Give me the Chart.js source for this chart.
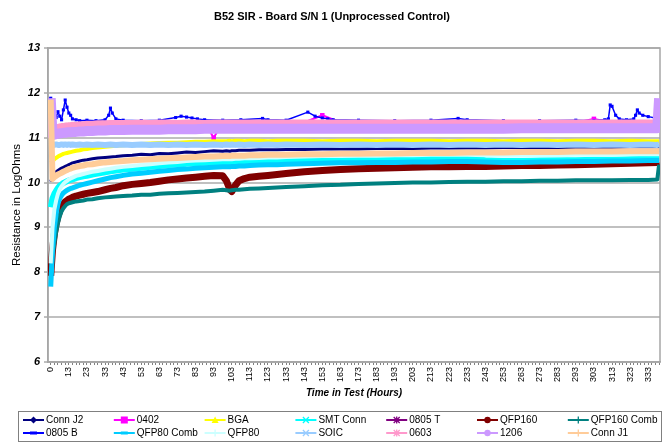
<!DOCTYPE html>
<html><head><meta charset="utf-8">
<script src="https://cdn.jsdelivr.net/npm/chart.js@4.4.1/dist/chart.umd.min.js"></script>
<style>html,body{margin:0;padding:0;background:#fff;}#wrap{width:664px;height:446px;position:relative;}</style>
</head><body><div id="wrap"><canvas id="c" width="664" height="446"></canvas></div>
<script>
const chartTitle = 'B52 SIR - Board S/N 1 (Unprocessed Control)';
const xTitle = 'Time in Test (Hours)';
const yTitle = 'Resistance in LogOhms';
const seriesNames = ['Conn J2','0402','BGA','SMT Conn','0805 T','QFP160','QFP160 Comb','0805 B','QFP80 Comb','QFP80','SOIC','0603','1206','Conn J1'];
// category-axis labels shown every 10th category
const xTickLabels = ['0','13','23','33','43','53','63','73','83','93','103','113','123','133','143','153','163','173','183','193','203','213','223','233','243','253','263','273','283','293','303','313','323','333'];
const yTickValues = [6,7,8,9,10,11,12,13];
// category positions of the sampled readings
const sampleIdx = [0,1,2,3,4,5,6,7,8,9,10,11,12, 14,16,18,20, 23,26,30,33,36,40, 45,50,55,60,65,70,75,80,85,90,95, 97,99,100,102,104,107,110, 115,120,125,130, 140,150,160,170,180,190,200,210,220,230,240,250,260,270,280,290,300,310,320,330, 335,336];

const connJ2 = [10.02,10.15,10.2,10.24,10.27,10.3,10.32,10.34,10.36,10.38,10.4,10.42,10.44, 10.46,10.48,10.5,10.51, 10.53,10.55,10.56,10.57,10.58,10.6, 10.61,10.63,10.62,10.65,10.64,10.66,10.68,10.67,10.69,10.71,10.7, 10.71,10.7,10.71,10.71,10.72,10.72,10.72, 10.73,10.73,10.73,10.74, 10.74,10.75,10.75,10.75,10.76,10.76,10.76,10.77,10.77,10.77,10.77,10.78,10.78,10.78,10.78,10.79,10.79,10.79,10.8,10.8, 10.8,10.8];
const c0402 = [11.1,11.15,11.18,11.2,11.22,11.23,11.24,11.25,11.26,11.26,11.27,11.27,11.28, 11.29,11.29,11.3,11.3, 11.31,11.31,11.32,11.32,11.32,11.33, 11.33,11.33,11.33,11.34,11.33,11.34,11.34,11.33,11.34,11.0,11.34, 11.34,11.34,11.34,11.34,11.34,11.34,11.34, 11.34,11.34,11.34,11.34, 11.34,11.5,11.34,11.34,11.34,11.34,11.34,11.34,11.34,11.34,11.34,11.34,11.34,11.34,11.34,11.34,11.42,11.34,11.34,11.34, 11.34,11.34];
const bga = [10.44,10.48,10.52,10.55,10.58,10.6,10.62,10.64,10.65,10.66,10.67,10.68,10.69, 10.71,10.72,10.74,10.75, 10.77,10.78,10.8,10.81,10.82,10.83, 10.85,10.86,10.87,10.88,10.89,10.89,10.9,10.91,10.91,10.92,10.92, 10.92,10.93,10.92,10.93,10.93,10.92,10.93, 10.93,10.92,10.93,10.93, 10.93,10.92,10.93,10.93,10.92,10.93,10.93,10.93,10.92,10.93,10.93,10.92,10.93,10.93,10.92,10.93,10.93,10.92,10.93,10.92, 10.92,10.92];
const smtConn = [9.45,9.65,9.75,9.82,9.88,9.93,9.96,9.99,10.01,10.03,10.05,10.06,10.07, 10.1,10.12,10.14,10.15, 10.18,10.2,10.23,10.25,10.27,10.29, 10.31,10.33,10.35,10.37,10.39,10.4,10.42,10.43,10.44,10.45,10.46, 10.46,10.45,10.45,10.46,10.47,10.47,10.48, 10.49,10.5,10.5,10.51, 10.52,10.53,10.53,10.54,10.54,10.55,10.55,10.56,10.56,10.55,10.5,10.48,10.48,10.49,10.5,10.5,10.51,10.51,10.52,10.53, 10.53,10.53];
const c0805T = [11.1,11.12,11.13,11.14,11.14,11.15,11.15,11.16,11.16,11.16,11.17,11.17,11.17, 11.18,11.18,11.18,11.19, 11.19,11.19,11.2,11.2,11.2,11.2, 11.21,11.21,11.21,11.21,11.21,11.21,11.21,11.21,11.21,11.21,11.21, 11.21,11.21,11.21,11.21,11.21,11.21,11.21, 11.21,11.21,11.21,11.21, 11.22,11.22,11.22,11.22,11.22,11.22,11.22,11.22,11.22,11.22,11.22,11.22,11.22,11.22,11.22,11.22,11.22,11.22,11.22,11.22, 11.22,11.22];
const qfp160 = [7.92,8.5,8.85,9.08,9.25,9.37,9.46,9.53,9.57,9.6,9.63,9.65,9.67, 9.7,9.72,9.74,9.76, 9.78,9.8,9.84,9.87,9.89,9.93, 9.96,9.98,10.0,10.03,10.06,10.08,10.1,10.12,10.14,10.16,10.15, 10.04,9.84,9.8,9.94,10.04,10.09,10.12, 10.14,10.16,10.18,10.2, 10.24,10.27,10.29,10.31,10.32,10.33,10.34,10.35,10.35,10.36,10.36,10.37,10.38,10.38,10.39,10.4,10.41,10.42,10.43,10.44, 10.45,10.46];
const qfp160Comb = [7.95,8.35,8.65,8.9,9.1,9.25,9.36,9.43,9.48,9.52,9.54,9.55,9.56, 9.58,9.59,9.6,9.62, 9.63,9.65,9.67,9.68,9.69,9.7, 9.71,9.73,9.73,9.75,9.76,9.77,9.78,9.79,9.8,9.82,9.84, 9.83,9.82,9.83,9.84,9.84,9.85,9.86, 9.87,9.88,9.89,9.9, 9.92,9.94,9.95,9.97,9.98,9.99,10.0,10.0,10.01,10.02,10.02,10.03,10.03,10.04,10.04,10.05,10.05,10.05,10.06,10.06, 10.07,10.4];
const qfp80Comb = [7.68,8.5,9.0,9.3,9.52,9.65,9.72,9.77,9.8,9.83,9.85,9.87,9.88, 9.91,9.94,9.96,9.98, 10.01,10.04,10.08,10.11,10.13,10.16, 10.19,10.21,10.23,10.25,10.27,10.29,10.3,10.32,10.33,10.34,10.35, 10.35,10.35,10.36,10.36,10.37,10.37,10.38, 10.39,10.4,10.4,10.41, 10.42,10.43,10.44,10.44,10.45,10.45,10.46,10.46,10.47,10.47,10.46,10.45,10.45,10.46,10.46,10.47,10.47,10.48,10.48,10.49, 10.49,10.49];
const qfp80 = [8.2,9.0,9.4,9.6,9.75,9.85,9.92,9.97,10.01,10.04,10.07,10.09,10.11, 10.15,10.17,10.19,10.21, 10.24,10.26,10.29,10.31,10.33,10.35, 10.37,10.39,10.41,10.43,10.45,10.46,10.48,10.49,10.5,10.51,10.52, 10.52,10.52,10.52,10.53,10.53,10.54,10.54, 10.55,10.56,10.56,10.57, 10.58,10.59,10.59,10.6,10.6,10.61,10.61,10.62,10.62,10.62,10.61,10.6,10.6,10.61,10.61,10.62,10.62,10.62,10.63,10.63, 10.63,10.63];
const soic = [10.84,10.85,10.84,10.85,10.84,10.84,10.85,10.84,10.85,10.84,10.85,10.84,10.85, 10.84,10.85,10.84,10.85, 10.84,10.85,10.84,10.85,10.84,10.85, 10.84,10.85,10.84,10.85,10.84,10.85,10.84,10.85,10.84,10.85,10.84, 10.85,10.84,10.85,10.84,10.85,10.84,10.85, 10.84,10.85,10.84,10.85, 10.84,10.85,10.84,10.85,10.84,10.85,10.84,10.85,10.84,10.85,10.84,10.85,10.84,10.85,10.84,10.85,10.84,10.85,10.84,10.85, 10.84,10.85];
const c0603 = [11.15,11.2,11.22,11.23,11.24,11.25,11.26,11.26,11.27,11.27,11.28,11.28,11.29, 11.29,11.3,11.3,11.31, 11.31,11.32,11.32,11.33,11.33,11.33, 11.33,11.34,11.33,11.34,11.34,11.33,11.34,11.34,11.33,11.34,11.34, 11.34,11.34,11.34,11.34,11.34,11.34,11.34, 11.34,11.34,11.34,11.34, 11.34,11.34,11.34,11.34,11.34,11.34,11.34,11.34,11.34,11.34,11.34,11.34,11.34,11.34,11.34,11.34,11.34,11.34,11.34,11.34, 11.34,11.34];
const c1206 = [11.88,11.06,11.07,11.08,11.09,11.1,11.1,11.11,11.11,11.12,11.12,11.12,11.13, 11.13,11.14,11.14,11.15, 11.15,11.16,11.16,11.17,11.17,11.17, 11.18,11.18,11.18,11.18,11.19,11.19,11.19,11.19,11.2,11.2,11.2, 11.2,11.2,11.2,11.2,11.2,11.2,11.2, 11.2,11.2,11.2,11.2, 11.2,11.2,11.2,11.2,11.2,11.2,11.2,11.2,11.2,11.2,11.2,11.2,11.21,11.21,11.21,11.21,11.21,11.21,11.21,11.21, 11.21,11.88];
const connJ1 = [11.85,10.08,10.12,10.15,10.18,10.2,10.22,10.24,10.26,10.28,10.3,10.31,10.33, 10.35,10.37,10.38,10.4, 10.41,10.43,10.45,10.46,10.47,10.48, 10.5,10.51,10.52,10.53,10.54,10.55,10.56,10.57,10.58,10.58,10.59, 10.59,10.59,10.6,10.6,10.6,10.6,10.61, 10.61,10.62,10.62,10.62, 10.63,10.63,10.64,10.64,10.65,10.65,10.66,10.66,10.66,10.67,10.67,10.67,10.68,10.68,10.68,10.69,10.69,10.69,10.7,10.7, 10.7,10.7];
// 0805 B has its own (spiky) sampling
const c0805BIdx = [0,1,2,3,4,5,6,7,8,9,10,11,12,14,16,20,25,30,32,33,34,36,40,50,60,69,72,75,78,81,85,95,105,117,120,130,142,146,150,153,156,170,190,210,225,230,250,270,290,300,306,308,309,310,312,314,318,322,323,324,325,327,330,334,336];
const c0805B = [11.88,11.35,11.62,11.45,11.58,11.48,11.4,11.62,11.84,11.68,11.55,11.5,11.42,11.4,11.38,11.39,11.38,11.4,11.5,11.66,11.55,11.42,11.39,11.38,11.39,11.45,11.48,11.46,11.44,11.42,11.4,11.39,11.4,11.43,11.4,11.39,11.57,11.48,11.44,11.42,11.4,11.39,11.38,11.39,11.43,11.4,11.38,11.38,11.39,11.38,11.4,11.42,11.73,11.7,11.5,11.42,11.4,11.42,11.5,11.62,11.55,11.5,11.47,11.44,11.4];

const seriesValues = [connJ2,c0402,bga,smtConn,c0805T,qfp160,qfp160Comb,c0805B,qfp80Comb,qfp80,soic,c0603,c1206,connJ1];
const seriesIdx = [sampleIdx,sampleIdx,sampleIdx,sampleIdx,sampleIdx,sampleIdx,sampleIdx,c0805BIdx,sampleIdx,sampleIdx,sampleIdx,sampleIdx,sampleIdx,sampleIdx];

// styles
const colors = ['#000080','#FF00FF','#FFFF00','#00FFFF','#800080','#800000','#008080','#0000FF','#00CCFF','#CCFFFF','#99CCFF','#FF99CC','#CC99FF','#FFCC99'];
const widths = [3,2,4,6,2,7,4,1.5,5,4,6,6,10,6];
const markers = ['diamond','square','triangle','x','star','circle','plus','dash','dash','plus','x','star','circle','plus'];

const FONT = '"Liberation Sans", Arial, Helvetica, sans-serif';
Chart.defaults.font.family = FONT;
Chart.defaults.color = '#000';

const datasets = seriesNames.map((name, i) => ({
  label: name,
  data: seriesIdx[i].map((x, k) => ({x: x, y: seriesValues[i][k]})),
  borderColor: colors[i],
  backgroundColor: colors[i],
  borderWidth: widths[i],
  pointRadius: i === 7 ? 2.2 : (i === 1 ? 3.2 : 0),
  pointStyle: 'rect',
  pointBorderWidth: 0,
  borderJoinStyle: 'round',
  tension: 0,
  fill: false,
  order: -i
}));

function drawMarker(ctx, style, x, y, color) {
  ctx.save();
  ctx.fillStyle = color; ctx.strokeStyle = color; ctx.lineWidth = 1.3;
  ctx.beginPath();
  switch (style) {
    case 'diamond': ctx.moveTo(x, y-3.5); ctx.lineTo(x+3.5, y); ctx.lineTo(x, y+3.5); ctx.lineTo(x-3.5, y); ctx.closePath(); ctx.fill(); break;
    case 'square': ctx.fillRect(x-3.5, y-3.5, 7, 7); break;
    case 'triangle': ctx.moveTo(x, y-3.5); ctx.lineTo(x+3.5, y+3); ctx.lineTo(x-3.5, y+3); ctx.closePath(); ctx.fill(); break;
    case 'x': ctx.moveTo(x-3, y-3); ctx.lineTo(x+3, y+3); ctx.moveTo(x+3, y-3); ctx.lineTo(x-3, y+3); ctx.stroke(); break;
    case 'star': ctx.moveTo(x-3, y-3); ctx.lineTo(x+3, y+3); ctx.moveTo(x+3, y-3); ctx.lineTo(x-3, y+3); ctx.moveTo(x, y-3.5); ctx.lineTo(x, y+3.5); ctx.stroke(); break;
    case 'circle': ctx.arc(x, y, 3.2, 0, Math.PI*2); ctx.fill(); break;
    case 'plus': ctx.moveTo(x-3.5, y); ctx.lineTo(x+3.5, y); ctx.moveTo(x, y-3.5); ctx.lineTo(x, y+3.5); ctx.stroke(); break;
    case 'dash': ctx.fillRect(x-3.5, y-1.5, 7, 3); break;
  }
  ctx.restore();
}

const decorPlugin = {
  id: 'decor',
  beforeDatasetsDraw(chart) {
    const {ctx, chartArea: a} = chart;
    ctx.save();
    ctx.strokeStyle = '#a6a6a6'; ctx.lineWidth = 1.5;
    ctx.strokeRect(a.left, a.top, a.right - a.left, a.bottom - a.top);
    ctx.restore();
  },
  afterDraw(chart) {
    const ctx = chart.ctx;
    ctx.save();
    ctx.fillStyle = '#000';
    ctx.font = 'bold 11px ' + FONT;
    ctx.textAlign = 'center'; ctx.textBaseline = 'middle';
    ctx.fillText(chartTitle, 332, 17);
    // legend box
    ctx.strokeStyle = '#808080'; ctx.lineWidth = 1;
    ctx.strokeRect(18.5, 411.5, 643, 30);
    const rowsY = [420, 433];
    ctx.font = '10px ' + FONT;
    ctx.textAlign = 'left';
    seriesNames.forEach((name, i) => {
      const x = 23 + (i % 7) * 90.8;
      const y = rowsY[Math.floor(i / 7)];
      ctx.strokeStyle = colors[i]; ctx.lineWidth = 2;
      ctx.beginPath(); ctx.moveTo(x, y); ctx.lineTo(x + 21, y); ctx.stroke();
      drawMarker(ctx, markers[i], x + 10.5, y, colors[i]);
      ctx.fillStyle = '#000';
      ctx.fillText(name, x + 23, y + 0.5);
    });
    ctx.restore();
  }
};

const xTickPositions = [];
for (let v = 0; v <= 336; v += 2) xTickPositions.push(v);

new Chart(document.getElementById('c'), {
  type: 'line',
  data: { datasets },
  plugins: [decorPlugin],
  options: {
    responsive: false,
    animation: false,
    devicePixelRatio: 1,
    layout: { padding: { top: 48, right: 1, bottom: 46, left: 0 } },
    plugins: { legend: { display: false }, tooltip: { enabled: false }, title: { display: false } },
    scales: {
      x: {
        type: 'linear', min: -1.5, max: 336.5,
        afterBuildTicks: s => { s.ticks = xTickPositions.map(v => ({value: v})); },
        afterFit: s => { s.height = 38; s.paddingLeft = 0; s.paddingRight = 0; },
        ticks: {
          autoSkip: false, maxRotation: 90, minRotation: 90, padding: 2,
          font: { size: 9 }, color: '#000',
          callback: v => (v % 10 === 0 && xTickLabels[v / 10] !== undefined) ? xTickLabels[v / 10] : ''
        },
        grid: { drawOnChartArea: false, drawTicks: true, tickLength: 3, color: '#808080' },
        border: { display: true, color: '#a6a6a6', width: 1.5 },
        title: { display: true, text: xTitle, color: '#000', font: { size: 10, weight: 'bold', style: 'italic' }, padding: { top: 0, bottom: 1 } }
      },
      y: {
        min: 6, max: 13,
        afterBuildTicks: s => { s.ticks = yTickValues.map(v => ({value: v})); },
        afterFit: s => { s.width = 48; s.paddingTop = 0; s.paddingBottom = 0; },
        ticks: { font: { size: 11, weight: 'bold', style: 'italic' }, color: '#000', padding: 4 },
        grid: { color: '#c0c0c0', lineWidth: 2, drawTicks: true, tickLength: 4, tickColor: '#808080', tickWidth: 1 },
        border: { display: true, color: '#a6a6a6', width: 1.5 },
        title: { display: true, text: yTitle, color: '#000', font: { size: 11.5 }, padding: { top: 10, bottom: 0 } }
      }
    }
  }
});
</script>
</body></html>
